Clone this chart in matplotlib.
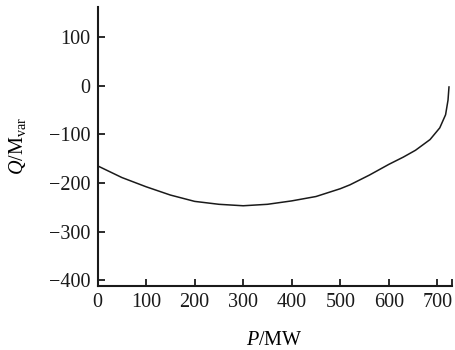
import matplotlib
matplotlib.use("Agg")
import matplotlib.pyplot as plt

# values
p_mw = [0, 50, 100, 150, 200, 250, 300, 350, 400, 450, 500, 520, 560, 600, 630, 655, 685, 705, 717, 722, 724]
q_mvar = [-165, -189, -208, -225, -238, -244, -247, -244, -237, -228, -212, -204, -184, -162, -147, -133, -111, -87, -60, -30, -3]
xticks = [0, 100, 200, 300, 400, 500, 600, 700]
yticks = [100, 0, -100, -200, -300, -400]

plt.rcParams['font.family'] = ['Liberation Serif', 'DejaVu Serif']
plt.rcParams['mathtext.fontset'] = 'custom'
plt.rcParams['mathtext.rm'] = 'Liberation Serif'
plt.rcParams['mathtext.it'] = 'Liberation Serif:italic'

fig = plt.figure(figsize=(4.56, 3.5), dpi=100)
ax = fig.add_axes([0.214, 0.184, 0.777, 0.797])

ax.plot(p_mw, q_mvar, color='#1a1a1a', linewidth=1.1)

ax.set_xlim(0, 730)
ax.set_ylim(-411, 162)
ax.set_xticks(xticks)
ax.set_xticks([730], minor=True)
ax.set_yticks(yticks)

for s in ['top', 'right']:
    ax.spines[s].set_visible(False)
for s in ['left', 'bottom']:
    ax.spines[s].set_linewidth(1.5)
    ax.spines[s].set_color('#1a1a1a')

ax.tick_params(which='both', direction='in', length=5, width=1.3, labelsize=14.5,
               colors='#1a1a1a')
ax.tick_params(axis='y', pad=5)
ax.tick_params(axis='x', pad=5)
ax.set_xticklabels([str(v) for v in xticks])
ax.set_yticklabels([str(v).replace('-', '\u2212') for v in yticks])

ax.set_xlabel(r'$P$/MW', fontsize=14.5, labelpad=14)
ax.set_ylabel(r'$Q$/M$_{\mathrm{var}}$', fontsize=14.5, labelpad=15)

fig.savefig('out.png', dpi=100)
